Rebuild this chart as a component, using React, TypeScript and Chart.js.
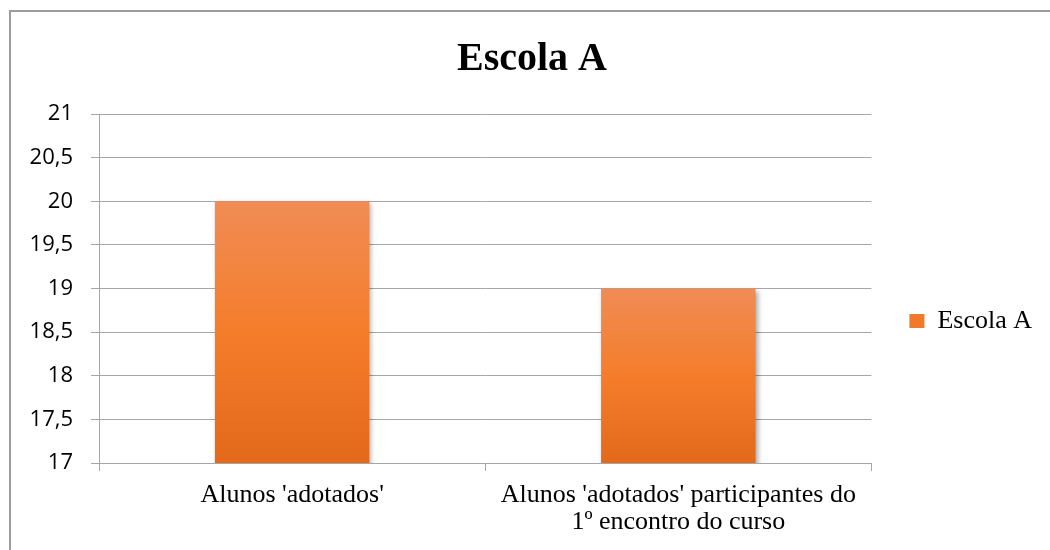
import React, { useEffect, useRef } from "react";
import { Chart, registerables } from "chart.js";

Chart.register(...registerables);

const categories: (string | string[])[] = [
  "Alunos 'adotados'",
  ["Alunos 'adotados' participantes do", "1º encontro do curso"],
];
const seriesName = "Escola A";
const seriesValues = [20, 19];
const chartTitle = "Escola A";
const yMin = 17;
const yMax = 21;
const yStep = 0.5;

const framePlugin = {
  id: "frame",
  beforeDraw(chart: any) {
    const ctx = chart.ctx;
    ctx.save();
    ctx.fillStyle = "#ffffff";
    ctx.fillRect(0, 0, chart.width, chart.height);
    ctx.strokeStyle = "#9c9c9c";
    ctx.lineWidth = 2;
    ctx.beginPath();
    ctx.moveTo(10, chart.height);
    ctx.lineTo(10, 11);
    ctx.lineTo(chart.width, 11);
    ctx.stroke();
    ctx.restore();
  },
};

const shadowPlugin = {
  id: "barShadow",
  beforeDatasetsDraw(chart: any) {
    const ctx = chart.ctx;
    ctx.save();
    ctx.shadowColor = "rgba(0,0,0,0.35)";
    ctx.shadowBlur = 5;
    ctx.shadowOffsetX = 2;
    ctx.shadowOffsetY = 2;
  },
  afterDatasetsDraw(chart: any) {
    chart.ctx.restore();
  },
};

function barFill(context: any) {
  const chart = context.chart;
  const yScale = chart.scales && chart.scales.y;
  if (!chart.chartArea || !yScale || context.type !== "data") return "#F47D2B";
  const top = yScale.getPixelForValue(context.raw);
  const bottom = yScale.getPixelForValue(yScale.min);
  if (!isFinite(top) || !isFinite(bottom) || bottom - top < 1) return "#F47D2B";
  const g = chart.ctx.createLinearGradient(0, top, 0, bottom);
  g.addColorStop(0, "#F08C55");
  g.addColorStop(0.5, "#F47D2B");
  g.addColorStop(1, "#E4691B");
  return g;
}

export default function App() {
  const canvasRef = useRef<HTMLCanvasElement | null>(null);

  useEffect(() => {
    if (!canvasRef.current) return;
    const gridColor = "#a6a6a6";
    const chart = new Chart(canvasRef.current, {
      type: "bar",
      data: {
        labels: categories,
        datasets: [
          {
            label: seriesName,
            data: seriesValues,
            backgroundColor: barFill,
            borderWidth: 0,
            categoryPercentage: 1,
            barPercentage: 0.4,
          },
        ],
      },
      options: {
        responsive: false,
        animation: false,
        layout: { padding: { left: 22, right: 8, top: 0, bottom: 0 } },
        plugins: {
          tooltip: { enabled: false },
          title: {
            display: true,
            text: chartTitle,
            color: "#000000",
            font: { family: "'Liberation Serif', 'Times New Roman', serif", size: 40, weight: "bold", lineHeight: 1.2 },
            padding: { top: 36, bottom: 30 },
          },
          legend: {
            display: true,
            position: "right",
            align: "center",
            title: {
              display: true,
              text: "",
              font: { size: 12, lineHeight: 1.2 },
              padding: { top: 77.6, bottom: 0 },
            },
            labels: {
              color: "#000000",
              font: { family: "'Liberation Serif', 'Times New Roman', serif", size: 26 },
              boxWidth: 15,
              boxHeight: 14,
              padding: 38,
              generateLabels: (c: any) => [
                {
                  text: seriesName,
                  fillStyle: "#F07A2A",
                  strokeStyle: "#F07A2A",
                  lineWidth: 0,
                  hidden: false,
                  datasetIndex: 0,
                  fontColor: "#000000",
                },
              ],
            },
          },
        },
        scales: {
          x: {
            afterFit: (s: any) => {
              s.height = 87;
            },
            grid: {
              display: true,
              drawOnChartArea: false,
              drawTicks: true,
              tickLength: 8,
              color: gridColor,
              offset: true,
            },
            border: { display: true, color: gridColor },
            ticks: {
              color: "#000000",
              font: { family: "'Liberation Serif', 'Times New Roman', serif", size: 26, lineHeight: 1.065 },
              padding: 10,
              maxRotation: 0,
              autoSkip: false,
            },
          },
          y: {
            min: yMin,
            max: yMax,
            afterFit: (s: any) => {
              s.width = 77;
            },
            grid: {
              color: gridColor,
              drawTicks: true,
              tickLength: 8,
            },
            border: { display: true, color: gridColor },
            ticks: {
              stepSize: yStep,
              color: "#000000",
              font: { family: "'Open Sans', sans-serif", size: 22 },
              padding: 18,
              callback: (v: any) => String(v).replace(".", ","),
            },
          },
        },
      },
      plugins: [framePlugin, shadowPlugin],
    } as any);
    return () => chart.destroy();
  }, []);

  return (
    <div style={{ position: "absolute", left: 0, top: 0, width: 1050, height: 550 }}>
      <canvas ref={canvasRef} width={1050} height={550} style={{ display: "block" }} />
    </div>
  );
}
